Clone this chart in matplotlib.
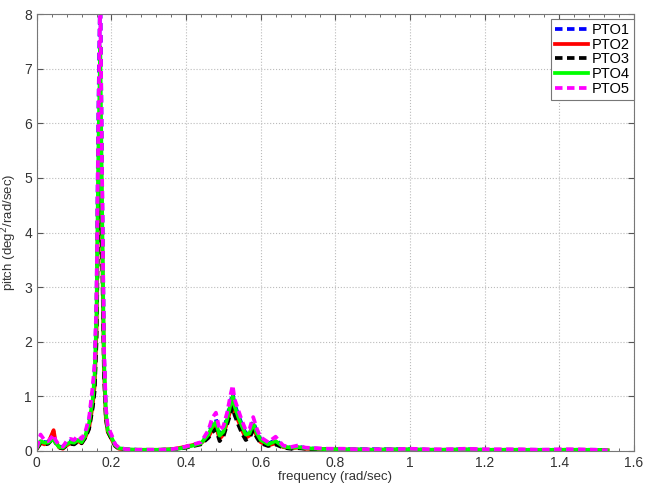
import matplotlib
matplotlib.use("Agg")
import matplotlib.pyplot as plt
from matplotlib.ticker import MultipleLocator

plt.rcParams['font.family'] = ['Liberation Sans', 'DejaVu Sans']

freq = [0.00, 0.01, 0.02, 0.03, 0.04, 0.045, 0.05, 0.06, 0.07, 0.08,
        0.09, 0.10, 0.11, 0.12, 0.13, 0.14, 0.15, 0.155, 0.16, 0.165,
        0.17, 0.175, 0.18, 0.185, 0.19, 0.20, 0.21, 0.22, 0.24, 0.27,
        0.30, 0.33, 0.36, 0.38, 0.40, 0.42, 0.44, 0.46, 0.47, 0.48,
        0.49, 0.50, 0.51, 0.52, 0.525, 0.53, 0.54, 0.55, 0.56, 0.57,
        0.58, 0.59, 0.60, 0.62, 0.64, 0.66, 0.68, 0.70, 0.72, 0.75,
        0.78, 0.82, 0.86, 0.90, 0.95, 1.00, 1.05, 1.10, 1.15, 1.20,
        1.25, 1.30, 1.35, 1.40, 1.45, 1.50, 1.53]

pto1 = [0.05, 0.20, 0.16, 0.16, 0.22, 0.25, 0.17, 0.08, 0.07, 0.14,
        0.18, 0.17, 0.22, 0.18, 0.30, 0.55, 1.05, 1.50, 2.70, 6.20,
        8.60, 4.90, 1.80, 0.75, 0.40, 0.27, 0.11, 0.05, 0.03, 0.02,
        0.02, 0.02, 0.03, 0.04, 0.07, 0.11, 0.15, 0.32, 0.50, 0.58,
        0.30, 0.38, 0.62, 0.92, 1.05, 0.86, 0.66, 0.48, 0.32, 0.35,
        0.54, 0.34, 0.21, 0.13, 0.20, 0.09, 0.06, 0.08, 0.05, 0.04,
        0.03, 0.03, 0.03, 0.03, 0.03, 0.03, 0.02, 0.02, 0.03, 0.02,
        0.02, 0.02, 0.02, 0.02, 0.02, 0.02, 0.01]

pto2 = [0.04, 0.15, 0.12, 0.14, 0.30, 0.38, 0.18, 0.06, 0.04, 0.10,
        0.14, 0.13, 0.18, 0.14, 0.25, 0.42, 0.85, 1.20, 2.20, 4.80,
        6.30, 3.90, 1.50, 0.60, 0.35, 0.22, 0.09, 0.04, 0.02, 0.02,
        0.02, 0.02, 0.03, 0.05, 0.08, 0.11, 0.14, 0.26, 0.38, 0.45,
        0.22, 0.30, 0.52, 0.78, 0.85, 0.72, 0.55, 0.38, 0.24, 0.28,
        0.42, 0.27, 0.16, 0.10, 0.14, 0.07, 0.05, 0.06, 0.04, 0.03,
        0.03, 0.02, 0.02, 0.02, 0.02, 0.02, 0.02, 0.02, 0.02, 0.02,
        0.02, 0.02, 0.01, 0.02, 0.02, 0.01, 0.01]

pto3 = [0.04, 0.14, 0.12, 0.13, 0.20, 0.26, 0.15, 0.06, 0.05, 0.10,
        0.13, 0.12, 0.17, 0.14, 0.24, 0.40, 0.80, 1.10, 2.00, 4.40,
        5.60, 3.60, 1.40, 0.60, 0.36, 0.22, 0.09, 0.04, 0.02, 0.02,
        0.02, 0.02, 0.02, 0.04, 0.06, 0.09, 0.12, 0.24, 0.34, 0.40,
        0.18, 0.26, 0.48, 0.70, 0.80, 0.66, 0.48, 0.32, 0.20, 0.24,
        0.38, 0.24, 0.14, 0.09, 0.12, 0.06, 0.04, 0.05, 0.04, 0.03,
        0.02, 0.02, 0.02, 0.02, 0.02, 0.02, 0.02, 0.02, 0.02, 0.01,
        0.01, 0.01, 0.01, 0.01, 0.01, 0.01, 0.01]

pto4 = [0.05, 0.18, 0.15, 0.15, 0.20, 0.22, 0.15, 0.07, 0.06, 0.12,
        0.16, 0.15, 0.20, 0.16, 0.28, 0.50, 0.95, 1.40, 2.50, 5.50,
        7.40, 4.40, 1.70, 0.70, 0.38, 0.25, 0.10, 0.05, 0.03, 0.02,
        0.02, 0.02, 0.03, 0.04, 0.07, 0.10, 0.14, 0.30, 0.45, 0.52,
        0.28, 0.35, 0.58, 0.88, 1.00, 0.82, 0.62, 0.45, 0.30, 0.32,
        0.50, 0.32, 0.20, 0.12, 0.18, 0.08, 0.06, 0.07, 0.05, 0.04,
        0.03, 0.03, 0.03, 0.02, 0.03, 0.03, 0.02, 0.02, 0.03, 0.02,
        0.02, 0.02, 0.02, 0.02, 0.02, 0.02, 0.01]

pto5 = [0.05, 0.30, 0.20, 0.18, 0.25, 0.30, 0.20, 0.10, 0.08, 0.18,
        0.22, 0.20, 0.28, 0.22, 0.35, 0.60, 1.20, 1.60, 2.80, 6.00,
        8.40, 5.00, 1.90, 0.80, 0.45, 0.30, 0.12, 0.06, 0.03, 0.02,
        0.02, 0.02, 0.03, 0.05, 0.08, 0.12, 0.16, 0.38, 0.60, 0.70,
        0.38, 0.45, 0.70, 1.05, 1.20, 0.95, 0.75, 0.55, 0.38, 0.40,
        0.62, 0.40, 0.25, 0.16, 0.26, 0.10, 0.07, 0.10, 0.06, 0.05,
        0.04, 0.04, 0.03, 0.03, 0.03, 0.04, 0.03, 0.03, 0.04, 0.03,
        0.03, 0.03, 0.02, 0.03, 0.03, 0.02, 0.01]

labels = ["PTO1", "PTO2", "PTO3", "PTO4", "PTO5"]
series = [pto1, pto2, pto3, pto4, pto5]
colors = ["#0000ff", "#ff0000", "#000000", "#00ff00", "#ff00ff"]
styles = ["--", "-", "--", "-", "--"]

fig = plt.figure(figsize=(6.46, 4.88), dpi=100)
ax = fig.add_axes([0.057, 0.076, 0.924, 0.895])

for y, lab, c, ls in zip(series, labels, colors, styles):
    ax.plot(freq, y, color=c, linestyle=ls, linewidth=2.7, label=lab,
            dashes=(2, 1.2) if ls == "--" else (None, None))

ax.set_xlim(0, 1.6)
ax.set_ylim(0, 8)
ax.set_xticks([0, 0.2, 0.4, 0.6, 0.8, 1.0, 1.2, 1.4, 1.6])
ax.set_xticklabels(["0", "0.2", "0.4", "0.6", "0.8", "1", "1.2", "1.4", "1.6"])
ax.set_yticks(range(0, 9))
ax.xaxis.set_minor_locator(MultipleLocator(0.04))
ax.tick_params(which="both", direction="in", top=True, right=True,
               colors="#555555", labelcolor="#333333", labelsize=10)
ax.tick_params(which="major", length=4)
ax.tick_params(which="minor", length=2)
ax.grid(True, which="major", linestyle=":", color="#bbbbbb", linewidth=0.8)
for s in ax.spines.values():
    s.set_color("#777777")

ax.set_xlabel("frequency (rad/sec)", fontsize=9.5, color="#333333", labelpad=1)
ax.set_ylabel("pitch (deg$^2$/rad/sec)", fontsize=9.5, color="#333333", labelpad=4)

leg = ax.legend(loc="upper right", bbox_to_anchor=(1.0, 0.99), fontsize=10.5,
                handlelength=2.3, handletextpad=0.2, labelspacing=0.05,
                borderpad=0.3, borderaxespad=0.0, fancybox=False, framealpha=1)
leg.get_frame().set_edgecolor("#777777")
leg.get_frame().set_linewidth(0.8)

fig.savefig("out.png", dpi=100)
